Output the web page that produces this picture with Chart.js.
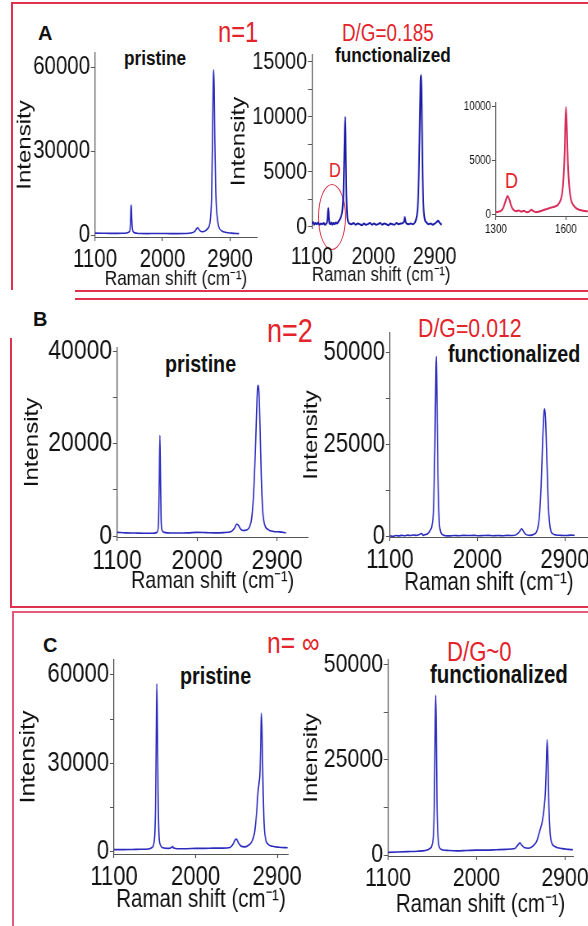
<!DOCTYPE html>
<html><head><meta charset="utf-8">
<script src="https://cdn.jsdelivr.net/npm/chart.js@4.4.1/dist/chart.umd.min.js"></script>
<style>
html,body{margin:0;padding:0;background:#fff;}
#fig{position:relative;width:588px;height:926px;overflow:hidden;background:#fff;}
#fig canvas{position:absolute;}
.t{position:absolute;white-space:nowrap;line-height:1;font-family:"Liberation Sans",Arial,sans-serif;transform:scaleX(0.82);transform-origin:0 0;}
.red{color:#e3242b;}
.b{font-weight:bold;color:#111;}
.lab{font-weight:bold;color:#111;font-size:20px;transform:none;}
.ln{position:absolute;background:#e0314f;}
.ell{position:absolute;border:1.5px solid #d8344a;border-radius:50%;box-sizing:border-box;}
</style></head><body><div id="fig">
<div class="ln" style="left:12px;top:2px;width:576px;height:2px"></div>
<div class="ln" style="left:11px;top:2px;width:2px;height:288px"></div>
<div class="ln" style="left:75px;top:290px;width:513px;height:2px"></div>
<div class="ln" style="left:75px;top:298px;width:513px;height:2px"></div>
<div class="ln" style="left:10px;top:338px;width:2px;height:270px"></div>
<div class="ln" style="left:10px;top:606px;width:578px;height:2px"></div>
<div class="ln" style="left:12px;top:611px;width:576px;height:2px;background:#e45a78"></div>
<div class="ln" style="left:12px;top:611px;width:2px;height:315px;background:#e45a78"></div>

<div class="t lab" style="left:38px;top:23px">A</div>
<div class="t lab" style="left:33px;top:309px">B</div>
<div class="t lab" style="left:43px;top:635px">C</div>

<div class="t red" style="left:218px;top:18px;font-size:29px">n=1</div>
<div class="t red" style="left:342px;top:22px;font-size:23px">D/G=0.185</div>
<div class="t b" style="left:124px;top:47px;font-size:21px">pristine</div>
<div class="t b" style="left:335px;top:44px;font-size:21px">functionalized</div>
<div class="t red" style="left:329px;top:160px;font-size:20px">D</div>
<div class="t red" style="left:505px;top:170px;font-size:22px">D</div>
<div class="ell" style="left:318px;top:184px;width:28px;height:66px"></div>

<div class="t red" style="left:267px;top:314px;font-size:33px">n=2</div>
<div class="t red" style="left:418px;top:315px;font-size:26px">D/G=0.012</div>
<div class="t b" style="left:165px;top:352px;font-size:24px">pristine</div>
<div class="t b" style="left:448px;top:342px;font-size:24px">functionalized</div>

<div class="t red" style="left:267px;top:628px;font-size:30px">n= ∞</div>
<div class="t red" style="left:447px;top:639px;font-size:27px">D/G~0</div>
<div class="t b" style="left:180px;top:664px;font-size:24px">pristine</div>
<div class="t b" style="left:430px;top:662px;font-size:25px">functionalized</div>
</div>
<script>
// ---------- data (Raman shift cm-1, intensity) ----------
const ramanTicks = [1100, 2000, 2900];
const insetTicks = [1300, 1600];
const yTicksA1 = [0, 30000, 60000];
const yTicksA2 = [0, 5000, 10000, 15000];
const yMinorA2 = [2500, 7500, 12500];
const yTicksInset = [0, 5000, 10000];
const yTicksB1 = [0, 20000, 40000];
const yMinorB1 = [10000, 30000];
const yTicksB2 = [0, 25000, 50000];
const yMinorB2 = [12500, 37500];
const yTicksC1 = [0, 30000, 60000];
const yMinorC1 = [15000, 45000];
const yTicksC2 = [0, 25000, 50000];
const yMinorC2 = [12500, 37500];

const aPristine = [[1100,700],[1200,650],[1300,600],[1400,600],[1500,650],[1560,1200],[1572,4000],[1580,10000],[1584,10700],[1590,6000],[1600,2000],[1620,900],[1660,650],[1700,550],[1800,500],[1900,550],[2000,550],[2100,500],[2200,500],[2300,550],[2380,700],[2430,1300],[2455,2300],[2470,2600],[2485,2000],[2505,1400],[2530,1200],[2570,1500],[2600,2300],[2620,3000],[2640,6000],[2655,14000],[2667,34000],[2676,54000],[2682,59000],[2689,53000],[2698,34000],[2710,16000],[2727,7000],[2750,3000],[2790,1500],[2850,900],[2920,700],[3020,500]];

const aFunctionalized = [[1100,300],[1115,450],[1130,200],[1150,350],[1170,250],[1190,400],[1210,200],[1230,300],[1250,250],[1270,350],[1290,200],[1310,300],[1325,600],[1333,1300],[1340,1700],[1347,900],[1356,350],[1370,250],[1385,400],[1400,200],[1415,350],[1430,250],[1450,400],[1470,300],[1490,500],[1510,700],[1530,1000],[1545,1500],[1560,2800],[1570,5500],[1580,8500],[1588,10000],[1595,7000],[1603,3500],[1615,1200],[1630,500],[1650,300],[1680,250],[1710,350],[1740,200],[1770,300],[1800,250],[1830,150],[1860,300],[1890,200],[1920,250],[1950,350],[1980,200],[2010,300],[2040,200],[2070,250],[2100,350],[2130,200],[2160,300],[2190,250],[2220,150],[2250,300],[2280,250],[2310,200],[2340,350],[2370,250],[2400,300],[2430,350],[2450,500],[2462,900],[2475,450],[2490,300],[2520,250],[2550,300],[2580,250],[2610,400],[2635,900],[2655,2200],[2670,5500],[2685,10500],[2695,13500],[2702,13800],[2710,11000],[2720,6000],[2735,2000],[2755,700],[2780,400],[2810,250],[2840,300],[2870,200],[2900,300],[2930,450],[2950,550],[2970,400],[2990,250],[3005,200]];

const aInset = [[1300,250],[1310,300],[1320,350],[1330,600],[1340,1200],[1350,1750],[1358,1400],[1366,800],[1376,450],[1388,350],[1398,420],[1408,300],[1420,380],[1432,250],[1444,330],[1452,480],[1460,350],[1472,250],[1484,300],[1496,380],[1508,480],[1520,560],[1532,650],[1544,720],[1556,800],[1566,950],[1576,1300],[1584,2000],[1590,3500],[1595,6000],[1600,10000],[1604,8000],[1609,4500],[1615,2500],[1622,1400],[1632,900],[1645,600],[1660,450],[1675,380],[1694,330]];

const bPristine = [[1100,800],[1200,700],[1300,650],[1400,600],[1500,600],[1550,800],[1565,2500],[1575,12000],[1582,21800],[1588,14000],[1595,4000],[1605,1300],[1630,800],[1700,650],[1800,650],[1900,700],[2000,800],[2100,750],[2200,700],[2300,750],[2380,950],[2420,1700],[2445,2600],[2465,2300],[2490,1500],[2520,1200],[2555,1300],[2590,2000],[2615,4000],[2635,9000],[2655,18000],[2670,27000],[2680,32000],[2688,32600],[2696,31000],[2708,24000],[2722,13000],[2738,5500],[2760,2500],[2800,1400],[2860,1000],[2930,900],[3000,700]];

const bFunctionalized = [[1100,300],[1130,150],[1160,350],[1190,250],[1220,400],[1250,300],[1280,450],[1310,350],[1340,500],[1370,400],[1400,600],[1425,900],[1440,400],[1465,600],[1490,900],[1515,1800],[1535,3500],[1550,9000],[1562,25000],[1572,45000],[1576,49000],[1582,40000],[1592,18000],[1605,5000],[1620,1500],[1640,600],[1670,300],[1710,250],[1760,350],[1810,300],[1860,400],[1910,350],[1960,400],[2010,300],[2060,350],[2110,400],[2160,300],[2210,350],[2260,300],[2310,400],[2360,350],[2400,600],[2430,1300],[2455,2200],[2475,1400],[2500,600],[2540,400],[2580,700],[2610,1500],[2635,5000],[2655,14000],[2672,27000],[2685,34000],[2693,34800],[2702,31000],[2715,20000],[2730,8000],[2748,2500],[2770,900],[2810,500],[2860,400],[2910,350],[2960,450],[3000,400]];

const cPristine = [[1100,800],[1200,800],[1300,850],[1400,900],[1480,1000],[1520,1500],[1545,4000],[1558,15000],[1566,40000],[1572,57000],[1578,45000],[1586,20000],[1596,6000],[1610,2500],[1640,1400],[1700,1200],[1730,1400],[1745,1800],[1760,1300],[1800,1100],[1900,1100],[2000,1200],[2100,1200],[2200,1300],[2300,1300],[2380,1500],[2410,2500],[2435,4000],[2450,4400],[2470,3200],[2500,2000],[2540,1700],[2580,2200],[2620,3500],[2650,6500],[2672,13000],[2688,20000],[2700,23500],[2710,27000],[2718,37000],[2725,47000],[2732,42000],[2742,25000],[2755,10000],[2772,4500],[2800,2600],[2850,1900],[2920,1600],[3015,1400]];

const cFunctionalized = [[1100,700],[1200,800],[1300,900],[1400,1000],[1480,1200],[1530,1800],[1560,4500],[1572,15000],[1580,34000],[1585,42000],[1591,33000],[1598,14000],[1608,5000],[1620,2200],[1650,1400],[1720,1200],[1800,1100],[1900,1200],[2000,1300],[2100,1300],[2200,1400],[2300,1500],[2390,1700],[2420,2600],[2442,3200],[2460,2600],[2490,1900],[2530,1800],[2570,2300],[2610,3500],[2645,6500],[2670,9000],[2690,13000],[2700,16500],[2708,22000],[2718,30300],[2727,24000],[2736,13000],[2748,6000],[2765,3200],[2800,2200],[2870,1700],[2930,1500],[2980,1400]];

// ---------- layout & style ----------
const FONT = '"Liberation Sans",Arial,sans-serif';
const SX = 0.82;             // horizontal compression of the whole figure
const AX = '#555';
const BLUE = '#2b2bbd';
const panels = [
  {data:aPristine, color:BLUE, lw:1.6, canvas:[10,33,265,293], plot:[95,53,257,237], x:[1100,3260], y:[-700,65000], xt:ramanTicks, yl:yTicksA1, ym:[], ts:25, xts:21, xcy:279, yts:24, ycx:25, xpad:4, xAxis:true, titles:true},
  {data:aFunctionalized, color:'#1c1ca8', lw:2, canvas:[224,35,470,293], plot:[312,55,460,228], x:[1100,3130], y:[-100,15630], xt:ramanTicks, yl:yTicksA2, ym:yMinorA2, ts:24, xts:21, xcy:275, yts:24, ycx:239, xpad:15, xAxis:false, titles:true},
  {data:aInset, color:'#d62a58', lw:2, canvas:[460,90,600,240], plot:[496,103,588,216], x:[1300,1694], y:[-100,10370], xt:insetTicks, yl:yTicksInset, ym:[], ts:12, xts:12, xcy:0, yts:12, ycx:0, xpad:2, xAxis:true, titles:false},
  {data:bPristine, color:BLUE, lw:1.6, canvas:[14,328,320,600], plot:[117,348,308,537], x:[1100,3249], y:[-200,40650], xt:ramanTicks, yl:yTicksB1, ym:yMinorB1, ts:28, xts:24, xcy:581, yts:24, ycx:32, xpad:3, xAxis:true, titles:true},
  {data:bFunctionalized, color:BLUE, lw:1.6, canvas:[295,313,600,600], plot:[390,333,588,537], x:[1100,3137], y:[-50,55430], xt:ramanTicks, yl:yTicksB2, ym:yMinorB2, ts:27, xts:25, xcy:583, yts:24, ycx:312, xpad:3, xAxis:true, titles:true},
  {data:cPristine, color:BLUE, lw:1.6, canvas:[14,640,305,922], plot:[114,660,293,854], x:[1100,3020], y:[-700,65085], xt:ramanTicks, yl:yTicksC1, ym:yMinorC1, ts:27, xts:25, xcy:900, yts:25, ycx:29, xpad:3, xAxis:true, titles:true},
  {data:cFunctionalized, color:BLUE, lw:1.6, canvas:[295,640,600,922], plot:[388,660,573,856], x:[1100,2981], y:[-250,51300], xt:ramanTicks, yl:yTicksC2, ym:yMinorC2, ts:26, xts:25, xcy:905, yts:24, ycx:312, xpad:3, xAxis:true, titles:true}
];

const fig = document.getElementById('fig');
function build(p){
  const [cx1, cy1, cx2, cy2] = p.canvas;
  const [l, t, r, b] = p.plot;
  const Wd = cx2 - cx1, H = cy2 - cy1;
  const Wv = Math.round(Wd / SX);
  const cv = document.createElement('canvas');
  cv.width = Wv; cv.height = H;
  cv.style.left = cx1 + 'px'; cv.style.top = cy1 + 'px';
  cv.style.width = Wd + 'px'; cv.style.height = H + 'px';
  fig.appendChild(cv);
  const lv = (l - cx1) / SX, rv = (r - cx1) / SX;
  const xH = cy2 - b;
  const xLH = p.xts * 1.2, yLH = p.yts * 1.2;
  const yAll = p.yl.concat(p.ym).sort((a, c) => a - c);
  new Chart(cv, {
    type: 'line',
    data: {datasets: [{data: p.data.map(([x, y]) => ({x, y})), borderColor: p.color, borderWidth: p.lw,
      pointRadius: 0, cubicInterpolationMode: 'monotone', fill: false}]},
    options: {
      responsive: false, animation: false, devicePixelRatio: 1,
      layout: {padding: {left: 0, top: t - cy1, right: Wv - rv, bottom: 0}},
      plugins: {legend: {display: false}, tooltip: {enabled: false}},
      scales: {
        x: {type: 'linear', min: p.x[0], max: p.x[1],
          afterBuildTicks: s => { s.ticks = p.xt.map(v => ({value: v})); },
          afterFit: s => { s.height = xH; },
          ticks: {font: {family: FONT, size: p.ts}, color: '#111', padding: p.xpad, maxRotation: 0, autoSkip: false, callback: v => String(v)},
          grid: {display: p.xAxis, drawOnChartArea: false, drawTicks: p.xAxis, tickLength: 4, color: AX, tickWidth: 1.2},
          border: {display: p.xAxis, color: AX, width: 1},
          title: {display: p.titles, text: 'Raman shift (cm\u207B\u00B9)', color: '#111',
            font: {family: FONT, size: p.xts, lineHeight: 1.2},
            padding: {top: 0, bottom: Math.max(0, cy2 - p.xcy - xLH / 2)}}
        },
        y: {type: 'linear', min: p.y[0], max: p.y[1],
          afterBuildTicks: s => { s.ticks = yAll.map(v => ({value: v})); },
          afterFit: s => { s.width = lv; },
          ticks: {font: {family: FONT, size: p.ts}, color: '#111', padding: 1, autoSkip: false, callback: v => p.yl.includes(v) ? String(v) : ''},
          grid: {display: true, drawOnChartArea: false, drawTicks: true, tickLength: 5, color: AX},
          border: {display: true, color: AX, width: 1.25},
          title: {display: p.titles, text: 'Intensity', color: '#111',
            font: {family: FONT, size: p.yts, lineHeight: 1.2},
            padding: {top: Math.max(0, (p.ycx - cx1) / SX - yLH / 2), bottom: 0}}
        }
      }
    }
  });
}
panels.forEach(build);
</script>
</body></html>
